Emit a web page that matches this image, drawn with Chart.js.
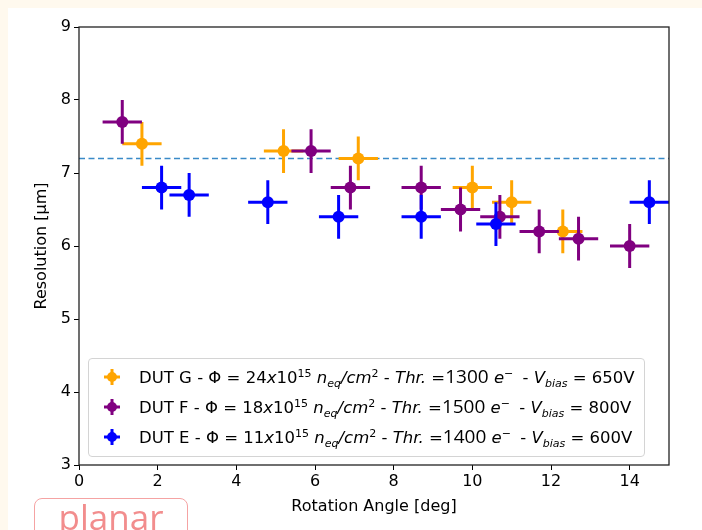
<!DOCTYPE html>
<html>
<head>
<meta charset="utf-8">
<script src="https://cdn.jsdelivr.net/npm/chart.js@4.4.1/dist/chart.umd.min.js"></script>
<style>
    html, body { margin: 0; padding: 0; background: #fff9ee; overflow: hidden; }
    #wrap { position: relative; width: 702px; height: 530px; }
    #panel { position: absolute; left: 8px; top: 8px; width: 694px; height: 522px; background: #fff; }
    #grafik { position: absolute; left: 0; top: 0; }
    #legenda {
        position: absolute; left: 88px; top: 358px; width: 557px; height: 99px;
        border: 1px solid #d4d4d4; border-radius: 4px; background: rgba(255,255,255,0.85);
        font-family: "DejaVu Sans", sans-serif; font-size: 16.5px; color: #000;
        padding-top: 2px; box-sizing: border-box;
    }
    .baris { position: relative; height: 30px; line-height: 30px; white-space: nowrap; }
    .baris svg { position: absolute; left: 12px; top: 5px; }
    .baris span.teks { position: absolute; left: 50px; }
    .angka { font-family: "Open Sans", sans-serif; font-size: 19px; }
    .minus { margin-right: 4px; }
    sup, sub { font-size: 11px; line-height: 0; }
    sub { vertical-align: -4px; }
    #planar {
        position: absolute; left: 34px; top: 498px; width: 154px; height: 50px;
        border: 1.5px solid #f5a3a3; border-radius: 8px; box-sizing: border-box;
        font-family: "Open Sans", sans-serif; font-size: 35px; color: #f28d8d;
        text-align: center; line-height: 36px;
    }
</style>
</head>
<body>
<div id="wrap">
    <div id="panel"></div>
    <canvas id="grafik" width="702" height="530"></canvas>
    <div id="legenda"></div>
    <div id="planar">planar</div>
</div>
<script>
// Data
const angleG = [1.6, 5.2, 7.1, 10.0, 11.0, 12.3];
const resG = [7.4, 7.3, 7.2, 6.8, 6.6, 6.2];
const angleF = [1.1, 5.9, 6.9, 8.7, 9.7, 10.7, 11.7, 12.7, 14.0];
const resF = [7.7, 7.3, 6.8, 6.8, 6.5, 6.4, 6.2, 6.1, 6.0];
const angleE = [2.1, 2.8, 4.8, 6.6, 8.7, 10.6, 14.5];
const resE = [6.8, 6.7, 6.6, 6.4, 6.4, 6.3, 6.6];
const errAngle = 0.5;
const errRes = 0.3;
const targetRes = 7.2;
const xTicks = [0, 2, 4, 6, 8, 10, 12, 14];
const yTicks = [3, 4, 5, 6, 7, 8, 9];

const warnaG = '#ffa500';
const warnaF = '#800080';
const warnaE = '#0000ff';

function toPoints(xs, ys) {
    return xs.map(function (x, i) { return { x: x, y: ys[i] }; });
}

// Plugin error bar, digambar sebelum titik tiap dataset
const errorBarPlugin = {
    id: 'errorBars',
    beforeDatasetDraw(chart, args) {
        const ds = chart.data.datasets[args.index];
        if (!ds.errorBar) return;
        const xs = chart.scales.x, ys = chart.scales.y, area = chart.chartArea;
        const ctx = chart.ctx;
        ctx.save();
        ctx.beginPath();
        ctx.rect(area.left, area.top, area.right - area.left, area.bottom - area.top);
        ctx.clip();
        ctx.strokeStyle = ds.borderColor;
        ctx.lineWidth = 3;
        ds.data.forEach(function (p) {
            ctx.beginPath();
            ctx.moveTo(xs.getPixelForValue(p.x - errAngle), ys.getPixelForValue(p.y));
            ctx.lineTo(xs.getPixelForValue(p.x + errAngle), ys.getPixelForValue(p.y));
            ctx.moveTo(xs.getPixelForValue(p.x), ys.getPixelForValue(p.y - errRes));
            ctx.lineTo(xs.getPixelForValue(p.x), ys.getPixelForValue(p.y + errRes));
            ctx.stroke();
        });
        ctx.restore();
    }
};

// Bingkai plot (spines)
const framePlugin = {
    id: 'frame',
    afterDatasetsDraw(chart) {
        const a = chart.chartArea, ctx = chart.ctx;
        ctx.save();
        ctx.strokeStyle = '#222';
        ctx.lineWidth = 1.3;
        ctx.strokeRect(a.left, a.top, a.right - a.left, a.bottom - a.top);
        ctx.restore();
    }
};

const fontTick = { family: 'DejaVu Sans', size: 16 };

const config = {
    type: 'scatter',
    data: {
        datasets: [
            {
                label: 'DUT G', data: toPoints(angleG, resG), errorBar: true, order: 3,
                backgroundColor: warnaG, borderColor: warnaG, pointRadius: 6, pointBorderWidth: 0
            },
            {
                label: 'DUT F', data: toPoints(angleF, resF), errorBar: true, order: 2,
                backgroundColor: warnaF, borderColor: warnaF, pointRadius: 6, pointBorderWidth: 0
            },
            {
                label: 'DUT E', data: toPoints(angleE, resE), errorBar: true, order: 1,
                backgroundColor: warnaE, borderColor: warnaE, pointRadius: 6, pointBorderWidth: 0
            },
            {
                type: 'line', label: 'target', order: 4,
                data: [{ x: 0, y: targetRes }, { x: 15, y: targetRes }],
                borderColor: '#3a8ac8', borderWidth: 1.5, borderDash: [6, 3.5],
                pointRadius: 0, fill: false
            }
        ]
    },
    options: {
        responsive: false,
        animation: false,
        devicePixelRatio: 1,
        layout: { padding: { left: 0, top: 27, right: 33, bottom: 0 } },
        plugins: { legend: { display: false }, tooltip: { enabled: false } },
        scales: {
            x: {
                type: 'linear', min: 0, max: 15,
                afterBuildTicks: function (axis) { axis.ticks = xTicks.map(function (v) { return { value: v }; }); },
                afterFit: function (axis) { axis.height = 65; },
                grid: { drawOnChartArea: false, drawTicks: true, tickLength: 5, color: '#000' },
                border: { display: false },
                ticks: { font: fontTick, color: '#000', padding: 2, maxRotation: 0 },
                title: { display: true, text: 'Rotation Angle [deg]', font: fontTick, color: '#000', padding: { top: 0, bottom: 14 } }
            },
            y: {
                type: 'linear', min: 3, max: 9,
                afterBuildTicks: function (axis) { axis.ticks = yTicks.map(function (v) { return { value: v }; }); },
                afterFit: function (axis) { axis.width = 79; },
                grid: { drawOnChartArea: false, drawTicks: true, tickLength: 5, color: '#000' },
                border: { display: false },
                ticks: { font: fontTick, color: '#000', padding: 3 },
                title: { display: true, text: 'Resolution [µm]', font: fontTick, color: '#000', padding: { top: 32, bottom: 0 } }
            }
        }
    },
    plugins: [errorBarPlugin, framePlugin]
};

new Chart(document.getElementById('grafik').getContext('2d'), config);

// Legenda HTML (butuh superscript/subscript)
const legendaItems = [
    { warna: warnaG, dut: 'G', fluence: '24', thr: '1300', bias: '650' },
    { warna: warnaF, dut: 'F', fluence: '18', thr: '1500', bias: '800' },
    { warna: warnaE, dut: 'E', fluence: '11', thr: '1400', bias: '600' }
];
const legenda = document.getElementById('legenda');
legendaItems.forEach(function (it) {
    legenda.innerHTML +=
        '<div class="baris">' +
        '<svg width="22" height="22" viewBox="0 0 22 22">' +
        '<line x1="3" y1="11" x2="19" y2="11" stroke="' + it.warna + '" stroke-width="3"/>' +
        '<line x1="11" y1="3" x2="11" y2="19" stroke="' + it.warna + '" stroke-width="3"/>' +
        '<circle cx="11" cy="11" r="5" fill="' + it.warna + '"/></svg>' +
        '<span class="teks">DUT ' + it.dut + ' - Φ = ' + it.fluence + '<i>x</i>10<sup>15</sup> ' +
        '<i>n<sub>eq</sub>/cm</i><sup>2</sup> - <i>Thr.</i> =<span class="angka">' + it.thr + '</span> <i>e</i><sup class="minus">−</sup> - ' +
        '<i>V<sub>bias</sub></i> = ' + it.bias + 'V</span></div>';
});
</script>
</body>
</html>
